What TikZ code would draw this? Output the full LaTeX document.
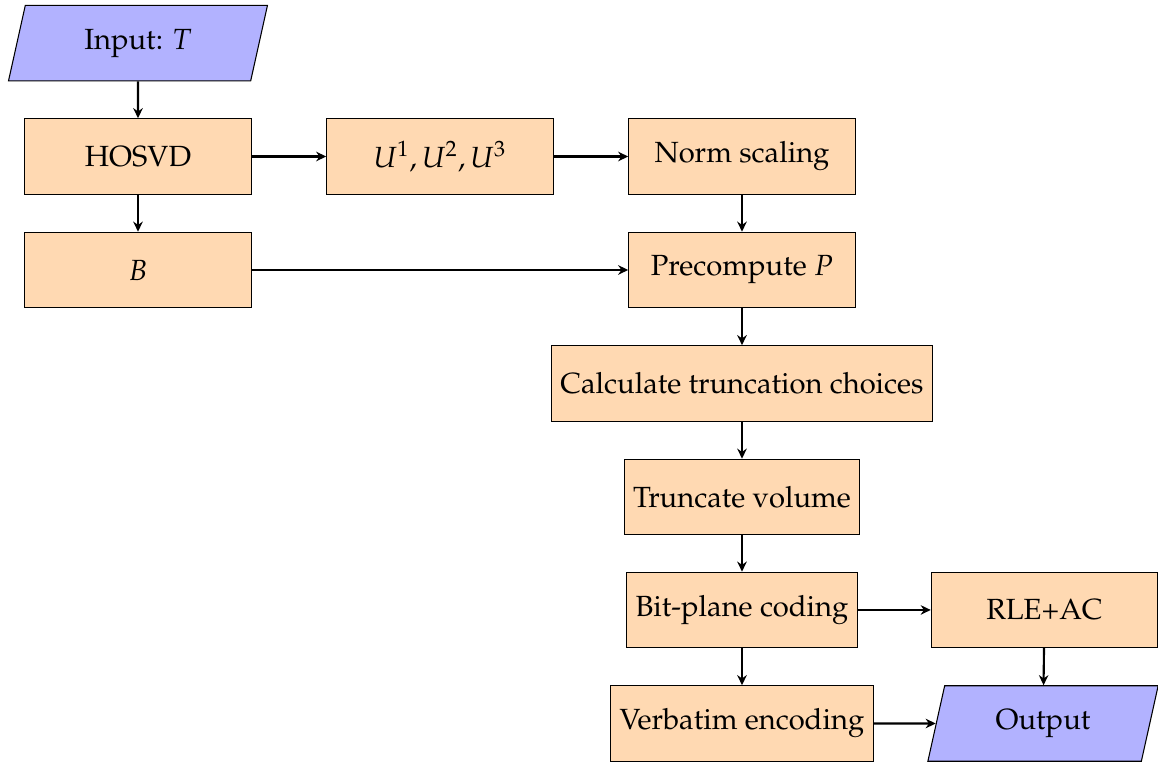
\documentclass[tikz,border=0pt]{standalone}
\usepackage[T1]{fontenc}
\usepackage{mathpazo}
\usetikzlibrary{shapes.geometric,arrows.meta}

\tikzset{
  procbox/.style={rectangle, draw=black, fill=orange!30, minimum width=3cm, minimum height=1cm, inner sep=3.3pt, font=\fontsize{11}{13.6}\selectfont},
  iobox/.style={trapezium, trapezium left angle=70, trapezium right angle=110, trapezium stretches body=true, draw=black, fill=blue!30, minimum height=1cm, font=\fontsize{11}{13.6}\selectfont},
  flow/.style={thick, -{Stealth[length=3.8pt,width=3.6pt]}}
}

\begin{document}
\begin{tikzpicture}
  \useasboundingbox (0,0) rectangle (15.338,-10.093);

  % column and row grid
  \def\xa{1.828}
  \def\xb{5.828}
  \def\xc{9.828}
  \def\xd{13.835}

  \node[iobox, minimum width=3.43cm] (in) at (\xa,-0.570) {Input: $T$};
  \node[procbox] (hosvd) at (\xa,-2.073) {HOSVD};
  \node[procbox] (u) at (\xb,-2.073) {$U^1,U^2,U^3$};
  \node[procbox] (norm) at (\xc,-2.073) {Norm scaling};
  \node[procbox] (b) at (\xa,-3.576) {$B$};
  \node[procbox] (pre) at (\xc,-3.576) {Precompute $P$};
  \node[procbox] (calc) at (\xc,-5.079) {Calculate truncation choices};
  \node[procbox] (trunc) at (\xc,-6.583) {Truncate volume};
  \node[procbox] (bit) at (\xc,-8.079) {Bit-plane coding};
  \node[procbox] (rle) at (\xd,-8.079) {RLE+AC};
  \node[procbox] (verb) at (\xc,-9.583) {Verbatim encoding};
  \node[iobox, minimum width=3.05cm] (out) at (13.815,-9.583) {Output};

  \draw[flow] (in) -- (hosvd);
  \draw[flow] (hosvd) -- (u);
  \draw[flow] (u) -- (norm);
  \draw[flow] (hosvd) -- (b);
  \draw[flow] (b) -- (pre);
  \draw[flow] (norm) -- (pre);
  \draw[flow] (pre) -- (calc);
  \draw[flow] (calc) -- (trunc);
  \draw[flow] (trunc) -- (bit);
  \draw[flow] (bit) -- (rle);
  \draw[flow] (bit) -- (verb);
  \draw[flow] (rle) -- (out);
  \draw[flow] (verb) -- (out);
\end{tikzpicture}
\end{document}
